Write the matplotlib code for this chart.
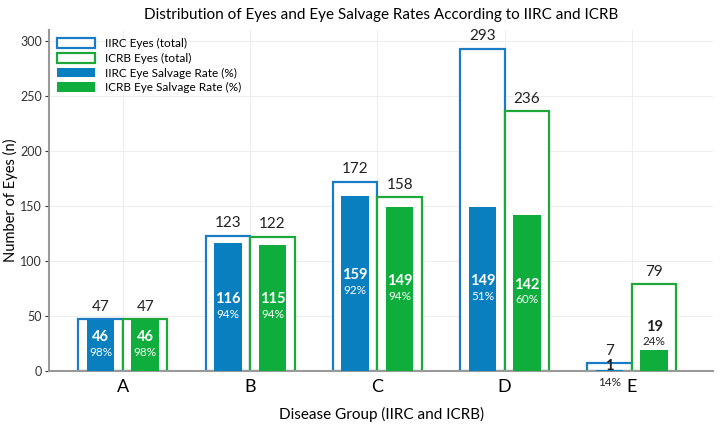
import numpy as np
import matplotlib
matplotlib.use("Agg")
import matplotlib.pyplot as plt

plt.rcParams['font.family'] = ['Lato', 'DejaVu Sans']

groups = ['A', 'B', 'C', 'D', 'E']
iirc_total = [47, 123, 172, 293, 7]
icrb_total = [47, 122, 158, 236, 79]
iirc_saved = [46, 116, 159, 149, 1]
icrb_saved = [46, 115, 149, 142, 19]
iirc_rate = [98, 94, 92, 51, 14]
icrb_rate = [98, 94, 94, 60, 24]

blue_edge = '#1a7cc4'
green_edge = '#1fa83a'
blue_fill = '#0a7fbf'
green_fill = '#0fae3c'

fig = plt.figure(figsize=(7.22, 4.29), dpi=100)
ax = fig.add_axes([0.068, 0.135, 0.920, 0.795])

x = np.arange(len(groups))
w_out = 0.35
w_in = 0.215

ax.bar(x - w_out/2, iirc_total, w_out, facecolor='white', edgecolor=blue_edge, linewidth=1.6,
       label='IIRC Eyes (total)', zorder=2)
ax.bar(x + w_out/2, icrb_total, w_out, facecolor='white', edgecolor=green_edge, linewidth=1.6,
       label='ICRB Eyes (total)', zorder=2)
ax.bar(x - w_out/2, iirc_saved, w_in, color=blue_fill, label='IIRC Eye Salvage Rate (%)', zorder=3)
ax.bar(x + w_out/2, icrb_saved, w_in, color=green_fill, label='ICRB Eye Salvage Rate (%)', zorder=3)

# totals on top of outline bars
for xs, tot in ((x - w_out/2, iirc_total), (x + w_out/2, icrb_total)):
    for xi, t in zip(xs, tot):
        ax.annotate(str(t), (xi, t), xytext=(0, 4), textcoords='offset points',
                    ha='center', va='bottom', fontsize=11, color='#222222', zorder=4)

# salvaged counts and rates
for xs, sv, rt in ((x - w_out/2, iirc_saved, iirc_rate), (x + w_out/2, icrb_saved, icrb_rate)):
    for xi, s, r in zip(xs, sv, rt):
        if s >= 30:
            ax.annotate(str(s), (xi, s/2), xytext=(0, 6), textcoords='offset points',
                        ha='center', va='center', fontsize=10.5, fontweight='bold', color='white', zorder=4)
            ax.annotate(f'{r}%', (xi, s/2), xytext=(0, -5), textcoords='offset points',
                        ha='center', va='center', fontsize=8.5, color='white', zorder=4)
        elif s >= 10:
            ax.annotate(str(s), (xi, s), xytext=(0, 17), textcoords='offset points',
                        ha='center', va='center', fontsize=10.5, fontweight='bold', color='#222222', zorder=4)
            ax.annotate(f'{r}%', (xi, s), xytext=(0, 6), textcoords='offset points',
                        ha='center', va='center', fontsize=8.5, color='#222222', zorder=4)
        else:
            ax.annotate(str(s), (xi, s), xytext=(0, 3), textcoords='offset points',
                        ha='center', va='center', fontsize=10.5, fontweight='bold', color='#222222', zorder=4)
            ax.annotate(f'{r}%', (xi, 0), xytext=(0, -8), textcoords='offset points',
                        ha='center', va='center', fontsize=8.5, color='#222222', zorder=4,
                        annotation_clip=False)

ax.set_xlim(-0.58, 4.64)
ax.set_ylim(0, 310)
ax.set_xticks(x)
ax.set_xticklabels(groups, fontsize=13)
ax.set_yticks(np.arange(0, 301, 50))
ax.tick_params(axis='y', labelsize=9, colors='#333333', length=3, pad=2)
ax.tick_params(axis='x', length=0, pad=6)
ax.grid(True, color='#eeeeee', linewidth=0.8, zorder=0)
ax.set_axisbelow(True)
for s in ('top', 'right'):
    ax.spines[s].set_visible(False)
for s in ('left', 'bottom'):
    ax.spines[s].set_color('#999999')
    ax.spines[s].set_linewidth(1.5)

ax.set_ylabel('Number of Eyes (n)', fontsize=10.5, labelpad=2)
ax.set_xlabel('Disease Group (IIRC and ICRB)', fontsize=11, labelpad=8)
ax.set_title('Distribution of Eyes and Eye Salvage Rates According to IIRC and ICRB', fontsize=11, pad=8)
ax.legend(loc='upper left', fontsize=8.5, frameon=False, handlelength=3.2, handleheight=0.9,
          labelspacing=0.3, borderaxespad=0.3)

fig.savefig('out.png', dpi=100)
